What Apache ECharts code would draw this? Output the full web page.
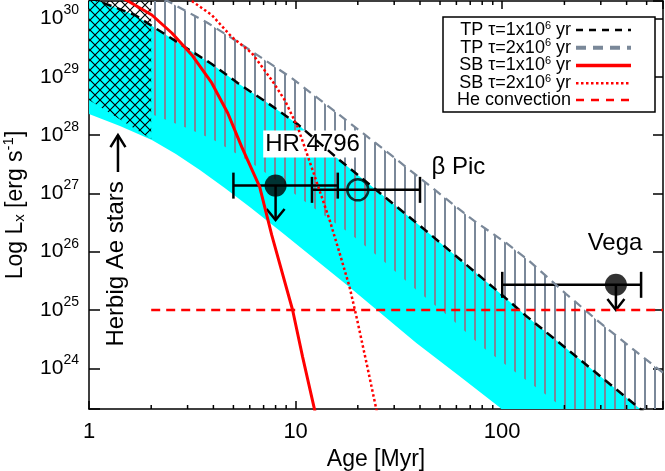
<!DOCTYPE html>
<html><head><meta charset="utf-8">
<script src="https://cdn.jsdelivr.net/npm/echarts@6/dist/echarts.min.js"></script>
<style>html,body{margin:0;padding:0;background:#fff}#c{width:665px;height:471px}</style>
</head><body><div id="c"></div>
<script>
const FONT = "'Liberation Sans', Arial, Helvetica, sans-serif";
const X_MIN = 1, X_MAX = 600, Y_MIN = 2e23, Y_MAX = 2e30;
const xMinorTicks = [2,3,4,5,6,7,8,9,20,30,40,50,60,70,80,90,200,300,400,500];

// TP model, tau = 1e6 yr : cyan band (upper edge = black dashed line)
const tp1Upper = [[1,2.3e30],[1.668,1.15e30],[2.203,6.11e29],[2.909,3.25e29],[3.928,1.66e29],[5.246,7.84e28],[7.32,3.56e28],[10.2,1.55e28],[16.3,3.75e27],[26.3,9.4e26],[42.9,2.27e26],[93.5,2.21e25],[130.6,7.9e24],[235.5,1.45e24],[459,2.09e23],[600,9e22]];
const tp1Lower = [[1,2.31e28],[1.412,1.44e28],[2.015,8.26e27],[2.633,4.75e27],[3.44,2.52e27],[4.54,1.24e27],[6.0,5.86e26],[8.65,2.10e26],[18.2,2.49e25],[38.4,2.72e24],[62.0,7.4e23],[96.7,2.17e23],[120,1e23]];
// TP model, tau = 2e6 yr : hatched band (upper edge = grey dashed line)
const tp2Upper = [[2,2.85e30],[2.603,1.71e30],[3.757,8.39e29],[5.073,4.29e29],[6.85,2.11e29],[9.565,9.55e28],[16.3,2.22e28],[28.5,4.75e27],[53.6,8.03e26],[73.2,3.37e26],[104.5,1.41e26],[135,6.94e25],[203.8,1.88e25],[294.1,6.24e24],[459,1.76e24],[600,8.4e23]];
const tp2Lower = [[2,2.31e28],[3,1.31e28],[4,8.3e27],[6,3.48e27],[8,1.71e27],[12,5.9e26],[18.2,2.1e26],[26.3,7.2e25],[38.4,2.21e25],[55.5,7.6e24],[80.1,2.32e24],[120.8,7.7e23],[163,3.5e23],[200,2.0e23],[260,1.0e23],[600,2e22]];
// SB models
const sb1 = [[1.26,3.0e30],[1.543,2.0e30],[2.015,1.15e30],[2.518,5.65e29],[3.145,2.37e29],[3.928,7.84e28],[4.693,2.40e28],[5.484,6.27e27],[6.70,1.29e27],[7.66,1.94e26],[9.67,1.0e25],[10.81,1.57e24],[12.36,1.93e23],[13,9e22]];
const sb2 = [[2.753,2.85e30],[3.145,2.0e30],[3.928,1.15e30],[4.908,4.83e29],[6.13,2.57e29],[7.66,8.83e28],[8.85,4.01e28],[10.23,1.38e28],[12.08,2.52e27],[14.60,3.51e26],[16.32,9.5e25],[18.24,2.49e25],[19.71,7.6e24],[22.03,1.24e24],[24.62,1.93e23],[25.5,9e22]];
// He convection level
const heConv = [[2,1e25],[600,1e25]];
// Herbig Ae stars region
const herbigUpper = [[1,2e30],[2,2e30]];
const herbigLower = [[1,4.0e28],[2,8.6e27]];
const herbigArrow = {age:1.381, from:2.33e27, to:1.0e28};

// Stars
const stars = ['HR 4796','β Pic','Vega'];
const starAge = [8.0, 20, 355];
const starAgeLo = [5, 12, 100];
const starAgeHi = [16, 40, 470];
const starLx = [1.36e27, 1.15e27, 2.7e25];
const starFilled = [true, false, true];
const starLimitTo = [3.5e26, null, 1.0e25];

// text annotations (anchor in data coordinates)
const annotations = [
  {text:'HR 4796', at:[12.08,7.05e27], bg:true},
  {text:'β Pic', at:[61.3,2.84e27]},
  {text:'Vega', at:[351.5,1.38e26]},
  {text:'Herbig Ae stars', at:[1.35,6.17e25], rotate:true}
];

const C_GREY = '#7a8899', C_RED = '#ff0000', C_CYAN = '#00ffff';

function vHatch(){
  const c=document.createElement('canvas'); c.width=10; c.height=10;
  const g=c.getContext('2d'); g.fillStyle=C_GREY; g.fillRect(4,0,2,10); return c;
}
function crossHatch(){
  const s=10; const c=document.createElement('canvas'); c.width=s; c.height=s;
  const g=c.getContext('2d'); g.strokeStyle='#000'; g.lineWidth=1.15; g.beginPath();
  g.moveTo(-1,-1); g.lineTo(s+1,s+1); g.moveTo(s+1,-1); g.lineTo(-1,s+1); g.stroke(); return c;
}
const isPow10 = v => { const l=Math.log10(v); return Math.abs(l-Math.round(l))<1e-6; };

function band(name, upper, lower, fill){
  return {type:'custom', name, silent:true, clip:true, data:upper,
    renderItem:(params, api)=>{
      if(params.dataIndex!==0) return null;
      const pts = upper.map(p=>api.coord(p)).concat(lower.slice().reverse().map(p=>api.coord(p)));
      return {type:'polygon', shape:{points:pts}, style:{fill, stroke:null}};
    }};
}
function lineS(name, data, color, width, type){
  return {type:'line', name, data, symbol:'none', showSymbol:false, smooth:false, clip:true, silent:true,
    lineStyle:{color, width, type, cap:'butt'}, itemStyle:{color}};
}

const axisCommon = {
  type:'log', logBase:10,
  axisLine:{show:true, onZero:false, lineStyle:{color:'#000', width:1.5}},
  splitLine:{show:false}, minorTick:{show:false}, minorSplitLine:{show:false}
};

const option = {
  animation:false,
  backgroundColor:'#fff',
  grid:{left:89, right:2, top:1, bottom:62, containLabel:false, outerBoundsMode:'none'},
  xAxis:[
    Object.assign({}, axisCommon, {min:X_MIN, max:X_MAX, position:'bottom',
      axisTick:{show:true, inside:true, length:8, lineStyle:{color:'#000', width:1.5}},
      axisLabel:{margin:12, fontSize:22, fontFamily:FONT, color:'#000',
        formatter:v=> isPow10(v) ? String(Math.round(v)) : ''},
      name:'Age [Myr]', nameLocation:'middle', nameGap:35,
      nameTextStyle:{fontSize:23, fontFamily:FONT, color:'#000'}}),
    Object.assign({}, axisCommon, {min:X_MIN, max:X_MAX, position:'top',
      axisTick:{show:true, inside:true, length:8, lineStyle:{color:'#000', width:1.5}},
      axisLabel:{show:false}})
  ],
  yAxis:[
    Object.assign({}, axisCommon, {min:Y_MIN, max:Y_MAX, position:'left',
      axisTick:{show:true, inside:true, length:11, lineStyle:{color:'#000', width:1.5}},
      axisLabel:{margin:10, color:'#000',
        formatter:v=> isPow10(v) ? '{b|10}{s|'+Math.round(Math.log10(v))+'}' : '',
        rich:{b:{fontSize:21, fontFamily:FONT, color:'#000', lineHeight:21},
              s:{fontSize:14, fontFamily:FONT, color:'#000', lineHeight:14, padding:[0,0,16,0]}}},
      name:'{a|Log L}{sub|x}{a| [erg s}{sup|-1}{a|]}', nameLocation:'middle', nameGap:61,
      nameTextStyle:{color:'#000', rich:{
        a:{fontSize:23, fontFamily:FONT, color:'#000', lineHeight:23},
        sub:{fontSize:15, fontFamily:FONT, color:'#000', lineHeight:15, padding:[10,0,0,0]},
        sup:{fontSize:15, fontFamily:FONT, color:'#000', lineHeight:15, padding:[0,0,13,0]}}}}),
    Object.assign({}, axisCommon, {min:Y_MIN, max:Y_MAX, position:'right',
      axisTick:{show:true, inside:true, length:10, lineStyle:{color:'#000', width:1.5}},
      axisLabel:{show:false}})
  ],
  legend:{
    orient:'vertical', left:443, top:17, align:'right',
    itemWidth:55, itemHeight:12, itemGap:-2.25,
    padding:[3,22,3,8],
    backgroundColor:'#fff', borderColor:'#000', borderWidth:1.5, borderRadius:0,
    selectedMode:false,
    itemStyle:{opacity:0, borderWidth:0},
    textStyle:{fontFamily:FONT, fontSize:18, color:'#000', lineHeight:16.5, width:120,
      rich:{sup:{fontFamily:FONT, fontSize:11, lineHeight:11, color:'#000', padding:[0,0,9,0]}}},
    formatter:n=>n.replace(/\^(\d+)/, '{sup|$1}'),
    data:[
      {name:'TP τ=1x10^6 yr', lineStyle:{color:'#000', width:2.5, type:[7,6], opacity:1}},
      {name:'TP τ=2x10^6 yr', lineStyle:{color:C_GREY, width:4, type:[10,7], opacity:1}},
      {name:'SB τ=1x10^6 yr', lineStyle:{color:C_RED, width:3.5, type:'solid', opacity:1}},
      {name:'SB τ=2x10^6 yr', lineStyle:{color:C_RED, width:2.5, type:[2.5,2.5], opacity:1}},
      {name:'He convection', lineStyle:{color:C_RED, width:2.5, type:[8,7], opacity:1}}
    ]
  },
  series:[
    band('bandTP1', tp1Upper, tp1Lower, C_CYAN),
    band('bandTP2', tp2Upper, tp2Lower, {image:vHatch(), repeat:'repeat'}),
    band('herbig', herbigUpper, herbigLower, {image:crossHatch(), repeat:'repeat'}),
    lineS('TP τ=2x10^6 yr', tp2Upper, C_GREY, 2.2, [9,6]),
    lineS('TP τ=1x10^6 yr', tp1Upper, '#000', 2.5, [9,6]),
    lineS('SB τ=1x10^6 yr', sb1, C_RED, 3, 'solid'),
    lineS('SB τ=2x10^6 yr', sb2, C_RED, 2.5, [2.5,2.5]),
    lineS('He convection', heConv, C_RED, 2.5, [9,6]),
    // x minor ticks (log spaced), bottom & top
    {type:'custom', silent:true, clip:false, data:xMinorTicks.map(v=>[v,Y_MIN]),
      renderItem:(params, api)=>{
        const v = xMinorTicks[params.dataIndex];
        const b = api.coord([v,Y_MIN]), t = api.coord([v,Y_MAX]);
        const st = {stroke:'#000', lineWidth:1.5};
        return {type:'group', children:[
          {type:'line', shape:{x1:b[0],y1:b[1],x2:b[0],y2:b[1]-4}, style:st},
          {type:'line', shape:{x1:t[0],y1:t[1],x2:t[0],y2:t[1]+4}, style:st}]};
      }},
    // error bars
    {type:'custom', silent:true, clip:false, data:stars.map((s,i)=>[starAge[i],starLx[i]]),
      renderItem:(params, api)=>{
        const i = params.dataIndex, L = starLx[i];
        const a = api.coord([starAgeLo[i],L]), b = api.coord([starAgeHi[i],L]);
        const cap = 13, st = {stroke:'#000', lineWidth:2.5};
        return {type:'group', children:[
          {type:'line', shape:{x1:a[0],y1:a[1],x2:b[0],y2:b[1]}, style:st},
          {type:'line', shape:{x1:a[0],y1:a[1]-cap,x2:a[0],y2:a[1]+cap}, style:st},
          {type:'line', shape:{x1:b[0],y1:b[1]-cap,x2:b[0],y2:b[1]+cap}, style:st}]};
      }},
    // arrows (upper limits and Herbig Ae marker)
    {type:'custom', silent:true, clip:false,
      data:[[starAge[0],starLx[0]],[starAge[2],starLx[2]],[herbigArrow.age,herbigArrow.from]],
      renderItem:(params, api)=>{
        const k = params.dataIndex;
        let from, to, w, h;
        if(k===0){ from=[starAge[0],starLx[0]]; to=[starAge[0],starLimitTo[0]]; w=9; h=11; }
        else if(k===1){ from=[starAge[2],starLx[2]]; to=[starAge[2],starLimitTo[2]]; w=8.5; h=11; }
        else { from=[herbigArrow.age,herbigArrow.from]; to=[herbigArrow.age,herbigArrow.to]; w=7.5; h=12; }
        const p = api.coord(from), q = api.coord(to);
        const d = q[1] > p[1] ? 1 : -1;
        const st = {stroke:'#000', lineWidth:2.5, fill:null};
        return {type:'group', children:[
          {type:'line', shape:{x1:p[0],y1:p[1],x2:q[0],y2:q[1]}, style:st},
          {type:'polyline', shape:{points:[[q[0]-w,q[1]-d*h],[q[0],q[1]],[q[0]+w,q[1]-d*h]]}, style:st}]};
      }},
    // star symbols
    {type:'scatter', silent:true, symbol:'circle', symbolSize:22,
      data:stars.map((s,i)=>({name:s, value:[starAge[i],starLx[i]],
        symbolSize: starFilled[i] ? 22 : 21,
        itemStyle: starFilled[i] ? {color:'#000'} : {color:'rgba(0,0,0,0)', borderColor:'#000', borderWidth:2.5}}))},
    // annotations
    {type:'custom', silent:true, clip:false, data:annotations.map(a=>a.at),
      renderItem:(params, api)=>{
        const a = annotations[params.dataIndex];
        const p = api.coord(a.at);
        return {type:'text', x:p[0], y:p[1], rotation: a.rotate ? Math.PI/2 : 0,
          style:{text:a.text, fontSize:24, fontFamily:FONT, fill:'#000', align:'center', verticalAlign:'middle',
            backgroundColor: a.bg ? '#fff' : 'transparent', padding: a.bg ? [2,2,1,2] : 0}};
      }}
  ]
};
const chart = echarts.init(document.getElementById('c'), null, {renderer:'canvas'});
chart.setOption(option);
</script></body></html>
